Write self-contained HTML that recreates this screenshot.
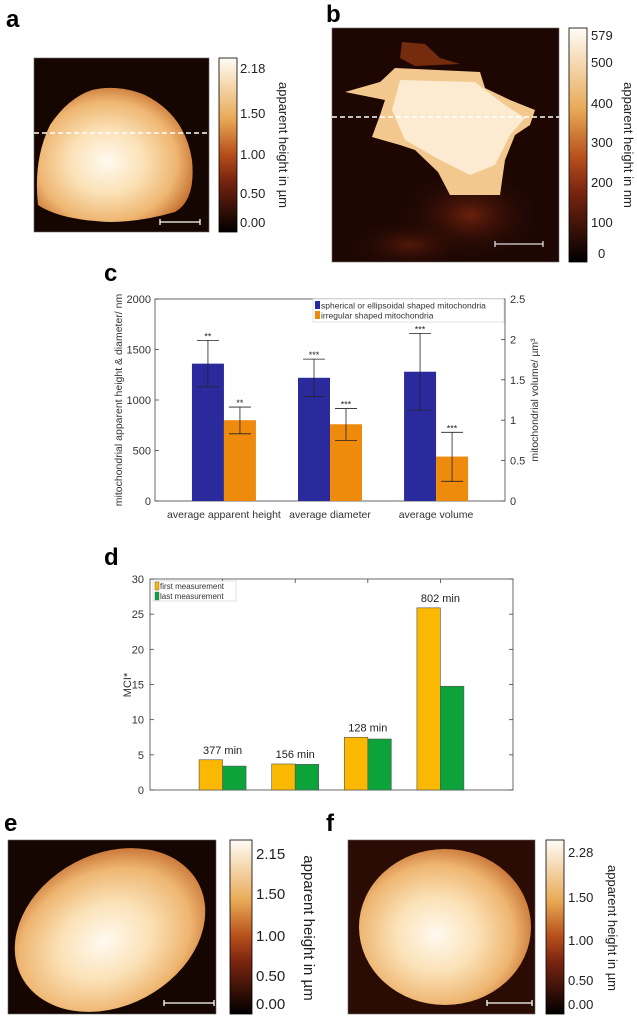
<!DOCTYPE html>
<html><head><meta charset="utf-8">
<style>
html,body{margin:0;padding:0;background:#fff;}
body{width:637px;height:1024px;position:relative;overflow:hidden;font-family:"Liberation Sans",sans-serif;}
svg{position:absolute;left:0;top:0;}
</style></head>
<body>
<svg id="fig" width="637" height="1024" viewBox="0 0 637 1024" xmlns="http://www.w3.org/2000/svg" font-family="Liberation Sans, sans-serif">
<defs>
<linearGradient id="cbar" x1="0" y1="1" x2="0" y2="0">
<stop offset="0" stop-color="#000"/>
<stop offset="0.3" stop-color="#7a2510"/>
<stop offset="0.45" stop-color="#b8501c"/>
<stop offset="0.65" stop-color="#e8a955"/>
<stop offset="1" stop-color="#fffcf6"/>
</linearGradient>
<radialGradient id="blob" cx="0.45" cy="0.55" r="0.6">
<stop offset="0" stop-color="#fffaf0"/>
<stop offset="0.4" stop-color="#fbe1b6"/>
<stop offset="0.75" stop-color="#eeb570"/>
<stop offset="1" stop-color="#c26a2c"/>
</radialGradient>
<radialGradient id="glow" cx="0.5" cy="0.5" r="0.5">
<stop offset="0" stop-color="#6a200c"/>
<stop offset="1" stop-color="#200804" stop-opacity="0"/>
</radialGradient>
<clipPath id="clipb"><rect x="332" y="28" width="227" height="234"/></clipPath>
</defs>

<g font-weight="bold" font-size="24" fill="#000">
<text x="6" y="27">a</text>
<text x="326" y="22">b</text>
<text x="104" y="281">c</text>
<text x="104" y="565">d</text>
<text x="4" y="831">e</text>
<text x="326" y="831">f</text>
</g>

<g>
<rect x="34" y="58" width="175" height="174" fill="#160602" stroke="#666" stroke-width="0.6"/>
<path d="M92 90 Q118 84 145 95 Q185 115 192 160 Q196 200 175 212 Q140 222 110 222 Q60 220 38 205 Q33 160 50 125 Q68 98 92 90 Z" fill="url(#blob)"/>
<line x1="34" y1="133" x2="209" y2="133" stroke="#fff" stroke-width="1.6" stroke-dasharray="5,3"/>
<path d="M160 219v6M160 222h40M200 219v6" stroke="#fff" stroke-width="1.3" fill="none"/>
</g>
<g>
<rect x="219" y="58" width="18" height="174" fill="url(#cbar)" stroke="#000" stroke-width="0.8"/>
<g font-size="13" fill="#222">
<text x="240" y="73">2.18</text><text x="240" y="118">1.50</text><text x="240" y="159">1.00</text><text x="240" y="198">0.50</text><text x="240" y="227">0.00</text>
</g>
<text transform="translate(279,145) rotate(90)" text-anchor="middle" font-size="13" fill="#222">apparent height in µm</text>
</g>

<g>
<rect x="332" y="28" width="227" height="234" fill="#1e0703" stroke="#666" stroke-width="0.6"/>
<g clip-path="url(#clipb)">
<ellipse cx="470" cy="215" rx="70" ry="45" fill="url(#glow)"/>
<ellipse cx="410" cy="245" rx="60" ry="25" fill="url(#glow)" opacity="0.7"/>
<polygon points="402,42 425,44 440,58 460,64 415,66 400,58" fill="#8a3412" opacity="0.8"/>
<polygon points="395,68 480,72 485,88 510,100 535,110 530,125 515,135 505,160 500,195 450,195 438,172 415,150 400,145 372,137 380,115 385,100 345,92 380,82" fill="#f2c88e"/>
<polygon points="400,80 475,82 505,105 525,118 510,135 495,165 470,175 440,160 405,140 392,110" fill="#fcebd0"/>
</g>
<line x1="332" y1="117" x2="559" y2="117" stroke="#fff" stroke-width="1.6" stroke-dasharray="5,3"/>
<path d="M495 241v6M495 244h48M543 241v6" stroke="#ddd" stroke-width="1.3" fill="none"/>
</g>
<g>
<rect x="569" y="28" width="18" height="234" fill="url(#cbar)" stroke="#000" stroke-width="0.8"/>
<g font-size="13" fill="#222">
<text x="591" y="40">579</text><text x="591" y="67">500</text><text x="591" y="108">400</text><text x="591" y="147">300</text><text x="591" y="187">200</text><text x="591" y="227">100</text><text x="598" y="258">0</text>
</g>
<text transform="translate(624,145) rotate(90)" text-anchor="middle" font-size="13" fill="#222">apparent height in nm</text>
</g>

<g>
<rect x="8" y="840" width="208" height="174" fill="#160602" stroke="#666" stroke-width="0.6"/>
<ellipse cx="110" cy="930" rx="100" ry="76" transform="rotate(-28 110 930)" fill="url(#blob)"/>
<path d="M164 1000v6M164 1003h50M214 1000v6" stroke="#fff" stroke-width="1.3" fill="none"/>
</g>
<g>
<rect x="230" y="840" width="22" height="174" fill="url(#cbar)" stroke="#000" stroke-width="0.8"/>
<g font-size="15" fill="#222">
<text x="256" y="859">2.15</text><text x="256" y="899">1.50</text><text x="256" y="941">1.00</text><text x="256" y="981">0.50</text><text x="256" y="1009">0.00</text>
</g>
<text transform="translate(304,928) rotate(90)" text-anchor="middle" font-size="15" fill="#222">apparent height in µm</text>
</g>

<g>
<rect x="348" y="840" width="187" height="174" fill="#2a0c05" stroke="#666" stroke-width="0.6"/>
<ellipse cx="445" cy="927" rx="86" ry="78" fill="url(#blob)"/>
<path d="M487 1000v6M487 1003h45M532 1000v6" stroke="#fff" stroke-width="1.3" fill="none"/>
</g>
<g>
<rect x="546" y="840" width="18" height="174" fill="url(#cbar)" stroke="#000" stroke-width="0.8"/>
<g font-size="13" fill="#222">
<text x="568" y="857">2.28</text><text x="568" y="902">1.50</text><text x="568" y="945">1.00</text><text x="568" y="985">0.50</text><text x="568" y="1009">0.00</text>
</g>
<text transform="translate(608,928) rotate(90)" text-anchor="middle" font-size="13" fill="#222">apparent height in µm</text>
</g>

<g id="chartC"></g>
<g id="chartD"></g>
</svg>

<script>
// chart c data
const cCategories = ["average apparent height", "average diameter", "average volume"];
const cSpherical = [1360, 1220, 1280];
const cSphericalLo = [1130, 1035, 900];
const cSphericalHi = [1590, 1405, 1660];
const cIrregular = [800, 760, 440];
const cIrregularLo = [665, 600, 195];
const cIrregularHi = [930, 915, 680];
const cSphStars = ["**", "***", "***"];
const cIrrStars = ["**", "***", "***"];
const cLeftTicks = [0, 500, 1000, 1500, 2000];
const cRightTicks = ["0", "0.5", "1", "1.5", "2", "2.5"];

// chart d data
const dCategories = ["377 min", "156 min", "128 min", "802 min"];
const dFirst = [4.3, 3.7, 7.5, 25.9];
const dLast = [3.4, 3.65, 7.25, 14.75];
const dTicks = [0, 5, 10, 15, 20, 25, 30];

const NS = "http://www.w3.org/2000/svg";
function mk(parent, tag, attrs, text) {
  const e = document.createElementNS(NS, tag);
  for (const k in attrs) e.setAttribute(k, attrs[k]);
  if (text !== undefined) e.textContent = text;
  parent.appendChild(e);
  return e;
}

(function () {
  const g = document.getElementById('chartC');
  const L = 155, R = 505, T = 299, B = 501;
  const yS = v => B - (v / 2000) * (B - T);
  const xS = i => L + ((i + 1) - 0.35) / 3.3 * (R - L);
  const bw = 32;
  mk(g, 'rect', {x: L, y: T, width: R - L, height: B - T, fill: 'none', stroke: '#444', 'stroke-width': 0.8});
  cLeftTicks.forEach(t => {
    const y = yS(t);
    const tk = mk(g, 'line', {x1: L, x2: L + 4, y1: y, y2: y, stroke: '#444', 'stroke-width': 0.8});
    
    
    const tl = mk(g, 'text', {x: L - 4, y: y + 4, 'text-anchor': 'end', 'font-size': 11, fill: '#333'}, String(t));
    
    
  });
  cRightTicks.forEach((t, i) => {
    const y = B - i * (B - T) / 2.5 * 0.5;
    mk(g, 'line', {x1: R - 4, x2: R, y1: y, y2: y, stroke: '#444', 'stroke-width': 0.8});
    const tl = mk(g, 'text', {x: R + 5, y: y + 4, 'font-size': 11, fill: '#333'}, t);
    
    
  });
  function errbar(x, lo, hi, stars) {
    mk(g, 'line', {x1: x, x2: x, y1: yS(lo), y2: yS(hi), stroke: '#222', 'stroke-width': 0.8});
    mk(g, 'line', {x1: x - 11, x2: x + 11, y1: yS(lo), y2: yS(lo), stroke: '#222', 'stroke-width': 0.8});
    mk(g, 'line', {x1: x - 11, x2: x + 11, y1: yS(hi), y2: yS(hi), stroke: '#222', 'stroke-width': 0.8});
    mk(g, 'text', {x: x, y: yS(hi) - 1, 'text-anchor': 'middle', 'font-size': 9, fill: '#222'}, stars);
  }
  cCategories.forEach((c, i) => {
    const cx = xS(i);
    const b1 = mk(g, 'rect', {x: cx - bw, y: yS(cSpherical[i]), width: bw, height: B - yS(cSpherical[i]), fill: '#2b2a9c'});
    
    
    const b2 = mk(g, 'rect', {x: cx, y: yS(cIrregular[i]), width: bw, height: B - yS(cIrregular[i]), fill: '#ee8a0c'});
    
    
    errbar(cx - bw / 2, cSphericalLo[i], cSphericalHi[i], cSphStars[i]);
    errbar(cx + bw / 2, cIrregularLo[i], cIrregularHi[i], cIrrStars[i]);
    const lab = mk(g, 'text', {x: cx, y: 518, 'text-anchor': 'middle', 'font-size': 10.5, fill: '#333'}, c);
    
    
  });
  const yl = mk(g, 'text', {transform: 'translate(122,400) rotate(-90)', 'text-anchor': 'middle', 'font-size': 10.5, fill: '#333'}, 'mitochondrial apparent height & diameter/ nm');
  
  
  const yr = mk(g, 'text', {transform: 'translate(538,400) rotate(-90)', 'text-anchor': 'middle', 'font-size': 10.5, fill: '#333'}, 'mitochondrial volume/ µm³');
  
  
  const lg = mk(g, 'g', {});
  
  
  mk(lg, 'rect', {x: 313, y: 299, width: 191, height: 23, fill: '#fff', stroke: '#ccc', 'stroke-width': 0.6});
  mk(lg, 'rect', {x: 315, y: 301, width: 5, height: 8, fill: '#2b2a9c'});
  mk(lg, 'text', {x: 321, y: 308.5, 'font-size': 8.5, fill: '#333'}, 'spherical or ellipsoidal shaped mitochondria');
  mk(lg, 'rect', {x: 315, y: 311, width: 5, height: 8, fill: '#ee8a0c'});
  mk(lg, 'text', {x: 321, y: 318.5, 'font-size': 8.5, fill: '#333'}, 'irregular shaped mitochondria');
})();

(function () {
  const g = document.getElementById('chartD');
  const L = 150, R = 513, T = 579, B = 790;
  const yS = v => B - (v / 30) * (B - T);
  const xS = i => L + (i + 1) / 5 * (R - L);
  const bw = 23.5;
  mk(g, 'rect', {x: L, y: T, width: R - L, height: B - T, fill: 'none', stroke: '#444', 'stroke-width': 0.8});
  dTicks.forEach(t => {
    const y = yS(t);
    mk(g, 'line', {x1: L, x2: L + 4, y1: y, y2: y, stroke: '#444', 'stroke-width': 0.8});
    mk(g, 'line', {x1: R - 4, x2: R, y1: y, y2: y, stroke: '#444', 'stroke-width': 0.8});
    const tl = mk(g, 'text', {x: L - 6, y: y + 4, 'text-anchor': 'end', 'font-size': 11, fill: '#333'}, String(t));
    
    
  });
  dCategories.forEach((c, i) => {
    const cx = xS(i);
    mk(g, 'line', {x1: cx, x2: cx, y1: T, y2: T + 4, stroke: '#444', 'stroke-width': 0.8});
    const b1 = mk(g, 'rect', {x: cx - bw, y: yS(dFirst[i]), width: bw, height: B - yS(dFirst[i]), fill: '#fbb800', stroke: '#555', 'stroke-width': 0.6});
    
    
    const b2 = mk(g, 'rect', {x: cx, y: yS(dLast[i]), width: bw, height: B - yS(dLast[i]), fill: '#0ba33a', stroke: '#555', 'stroke-width': 0.6});
    
    
    const top = Math.max(dFirst[i], dLast[i]);
    const an = mk(g, 'text', {x: cx, y: yS(top) - 6, 'text-anchor': 'middle', 'font-size': 11, fill: '#222'}, c);
    
    
  });
  const yl = mk(g, 'text', {transform: 'translate(131,685) rotate(-90)', 'text-anchor': 'middle', 'font-size': 11, fill: '#333'}, 'MCI*');
  
  
  const lg = mk(g, 'g', {});
  
  
  mk(lg, 'rect', {x: 153, y: 581, width: 83, height: 20, fill: '#fff', stroke: '#ccc', 'stroke-width': 0.6});
  mk(lg, 'rect', {x: 155, y: 582, width: 4, height: 8, fill: '#fbb800', stroke: '#555', 'stroke-width': 0.4});
  mk(lg, 'text', {x: 160, y: 589, 'font-size': 8, fill: '#333'}, 'first measurement');
  mk(lg, 'rect', {x: 155, y: 592, width: 4, height: 8, fill: '#0ba33a', stroke: '#555', 'stroke-width': 0.4});
  mk(lg, 'text', {x: 160, y: 599, 'font-size': 8, fill: '#333'}, 'last measurement');
})();
</script>
</body></html>
